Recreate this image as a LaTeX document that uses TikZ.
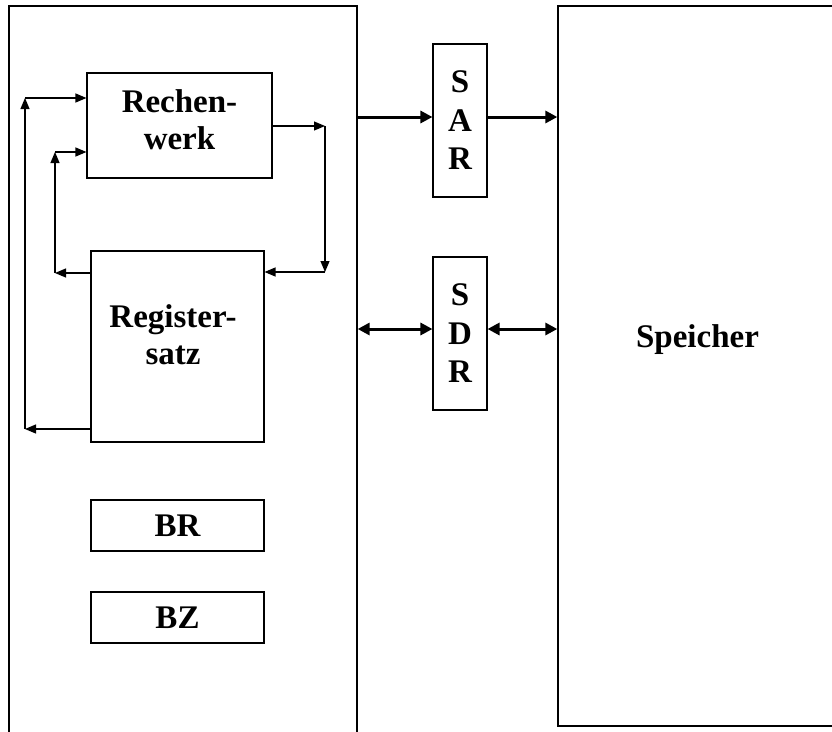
\documentclass[tikz,border=0pt]{standalone}
\usepackage{fontspec}
\setmainfont{Liberation Serif}
\usetikzlibrary{arrows.meta}
\begin{document}
\begin{tikzpicture}[x=1pt,y=-1pt,
  frame/.style={draw=black,line width=1.3pt,inner sep=0pt},
  box/.style={draw=black,line width=1.1pt,inner sep=0pt},
  lbl/.style={font=\bfseries\fontsize{33}{37}\selectfont,align=center,inner sep=0pt},
  reg/.style={box,lbl,minimum width=54pt,minimum height=153pt,font=\bfseries\fontsize{33}{38.5}\selectfont},
  flow/.style={line width=1.2pt,-{Triangle[length=11pt 0 0,width=9pt 0 0]}},
  bus/.style={line width=3pt,-{Triangle[length=12pt 0 0,width=12pt 0 0]}},
  busboth/.style={line width=3pt,{Triangle[length=12pt 0 0,width=12pt 0 0]}-{Triangle[length=12pt 0 0,width=12pt 0 0]}},
]
\useasboundingbox (0,0) rectangle (832,731);
\clip (0,0) rectangle (832,731);

% processor and memory frames (open towards the page edges)
\node[frame,minimum width=348pt,minimum height=754pt] (cpu) at (183,383) {};
\node[frame,minimum width=302pt,minimum height=720pt] (mem) at (709,366) {};
\node[lbl] (memText) at (697.5,339.5) {Speicher};

% units inside the processor
\node[box,minimum width=185pt,minimum height=105pt] (rw) at (179.5,125.5) {};
\node[lbl] (rwText) at (179.5,119.5) {Rechen-\\werk};
\node[box,minimum width=173pt,minimum height=191pt] (rs) at (177.5,346.5) {};
\node[lbl] (rsText) at (173,335) {Register-\\satz};
\node[box,lbl,minimum width=173pt,minimum height=51pt] (br) at (177.5,525.5) {BR};
\node[box,lbl,minimum width=173pt,minimum height=51pt] (bz) at (177.5,617.5) {BZ};

% address and data registers
\node[reg] (sar) at (460,120.5) {S\\A\\R};
\node[reg] (sdr) at (460,333.5) {S\\D\\R};

% routing points
\coordinate (o1) at (25,429);
\coordinate (o2) at (25,98);
\coordinate (i1) at (55,273);
\coordinate (i2) at (55,152);
\coordinate (r1) at (325,126);
\coordinate (r2) at (325,272);
\coordinate (busA) at (0,117);
\coordinate (busD) at (0,329);

% register file <-> ALU
\draw[flow] (rs.west |- o1) -- (o1);
\draw[flow] (o1) -- (o2);
\draw[flow] (o2) -- (rw.west |- o2);
\draw[flow] (rs.west |- i1) -- (i1);
\draw[flow] (i1) -- (i2);
\draw[flow] (i2) -- (rw.west |- i2);
\draw[flow] (rw.east |- r1) -- (r1);
\draw[flow] (r1) -- (r2);
\draw[flow] (r2) -- (rs.east |- r2);

% buses to memory
\draw[bus] (cpu.east |- busA) -- (sar.west |- busA);
\draw[bus] (sar.east |- busA) -- (mem.west |- busA);
\draw[busboth] (cpu.east |- busD) -- (sdr.west |- busD);
\draw[busboth] (sdr.east |- busD) -- (mem.west |- busD);
\end{tikzpicture}
\end{document}
